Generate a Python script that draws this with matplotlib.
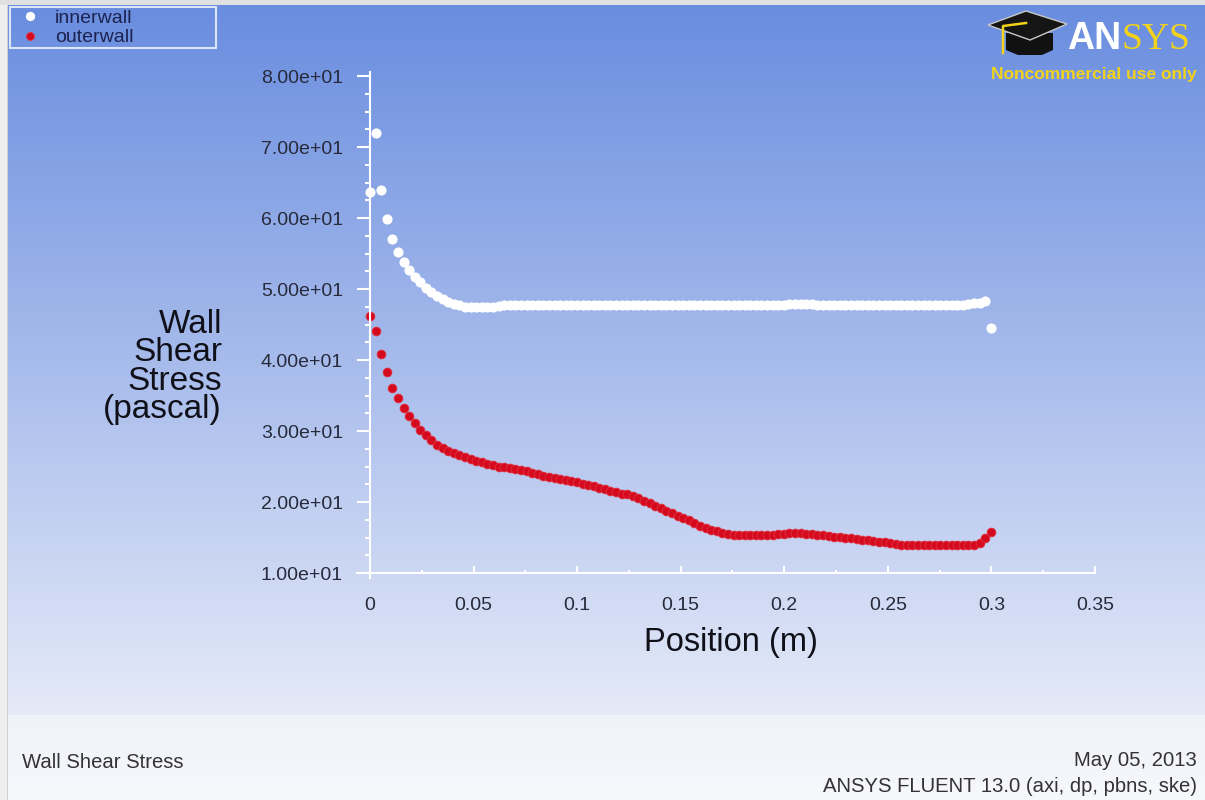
import matplotlib

matplotlib.use("Agg")  # headless
import matplotlib.pyplot as plt  # noqa: E402
import numpy as np  # noqa: E402
from matplotlib.patches import Polygon  # noqa: E402

plt.rcParams["font.family"] = ["Liberation Sans", "DejaVu Sans"]

# Wall shear stress (pascal) along the wall.
position = [
    0.0000, 0.0027, 0.0054, 0.0081, 0.0108, 0.0135, 0.0162, 0.0189, 0.0216, 0.0243,
    0.0270, 0.0297, 0.0324, 0.0351, 0.0378, 0.0405, 0.0432, 0.0459, 0.0486, 0.0513,
    0.0540, 0.0567, 0.0594, 0.0621, 0.0648, 0.0675, 0.0702, 0.0729, 0.0756, 0.0783,
    0.0810, 0.0837, 0.0864, 0.0891, 0.0918, 0.0945, 0.0972, 0.0999, 0.1026, 0.1053,
    0.1080, 0.1107, 0.1134, 0.1161, 0.1188, 0.1215, 0.1242, 0.1269, 0.1296, 0.1323,
    0.1350, 0.1377, 0.1404, 0.1431, 0.1458, 0.1485, 0.1512, 0.1539, 0.1566, 0.1593,
    0.1620, 0.1647, 0.1674, 0.1701, 0.1728, 0.1755, 0.1782, 0.1809, 0.1836, 0.1863,
    0.1890, 0.1917, 0.1944, 0.1971, 0.1998, 0.2025, 0.2052, 0.2079, 0.2106, 0.2133,
    0.2160, 0.2187, 0.2214, 0.2241, 0.2268, 0.2295, 0.2322, 0.2349, 0.2376, 0.2403,
    0.2430, 0.2457, 0.2484, 0.2511, 0.2538, 0.2565, 0.2592, 0.2619, 0.2646, 0.2673,
    0.2700, 0.2727, 0.2754, 0.2781, 0.2808, 0.2835, 0.2862, 0.2889, 0.2916, 0.2943,
    0.2970, 0.2997,
]
inner_wall = [
    63.6, 72.0, 63.9, 59.9, 57.0, 55.2, 53.8, 52.7, 51.7, 51.0,
    50.2, 49.6, 49.0, 48.6, 48.2, 47.9, 47.7, 47.5, 47.4, 47.4,
    47.4, 47.4, 47.5, 47.6, 47.7, 47.7, 47.7, 47.7, 47.7, 47.7,
    47.7, 47.7, 47.7, 47.7, 47.7, 47.7, 47.7, 47.7, 47.7, 47.7,
    47.7, 47.7, 47.7, 47.7, 47.7, 47.7, 47.7, 47.7, 47.7, 47.7,
    47.7, 47.7, 47.7, 47.7, 47.7, 47.7, 47.7, 47.7, 47.7, 47.7,
    47.7, 47.7, 47.7, 47.7, 47.7, 47.7, 47.7, 47.7, 47.7, 47.7,
    47.7, 47.7, 47.7, 47.7, 47.8, 47.9, 47.9, 47.9, 47.9, 47.9,
    47.8, 47.8, 47.7, 47.7, 47.7, 47.7, 47.7, 47.7, 47.7, 47.7,
    47.7, 47.7, 47.7, 47.7, 47.7, 47.7, 47.7, 47.7, 47.7, 47.7,
    47.7, 47.7, 47.7, 47.7, 47.7, 47.8, 47.8, 47.9, 48.0, 48.1,
    48.3, 44.5,
]
outer_wall = [
    46.2, 44.1, 40.8, 38.3, 36.1, 34.6, 33.3, 32.1, 31.1, 30.1,
    29.4, 28.7, 28.1, 27.6, 27.2, 26.9, 26.6, 26.3, 26.1, 25.8,
    25.6, 25.4, 25.2, 25.0, 24.9, 24.8, 24.6, 24.5, 24.3, 24.1,
    23.9, 23.7, 23.5, 23.4, 23.3, 23.1, 22.9, 22.8, 22.6, 22.4,
    22.2, 22.0, 21.8, 21.6, 21.4, 21.2, 21.1, 20.8, 20.5, 20.2,
    19.8, 19.5, 19.1, 18.7, 18.4, 18.1, 17.8, 17.4, 17.0, 16.6,
    16.3, 16.1, 15.9, 15.7, 15.5, 15.4, 15.3, 15.3, 15.3, 15.3,
    15.3, 15.4, 15.4, 15.5, 15.5, 15.6, 15.6, 15.6, 15.5, 15.5,
    15.4, 15.3, 15.2, 15.1, 15.1, 15.0, 14.9, 14.8, 14.7, 14.6,
    14.5, 14.4, 14.3, 14.2, 14.1, 14.0, 14.0, 13.9, 13.9, 13.9,
    13.9, 13.9, 13.9, 13.9, 13.9, 13.9, 13.9, 14.0, 14.0, 14.2,
    15.0, 15.8,
]
series_labels = ["innerwall", "outerwall"]

x_ticks = [0, 0.05, 0.1, 0.15, 0.2, 0.25, 0.3, 0.35]
x_minor = [0.025, 0.075, 0.125, 0.175, 0.225, 0.275, 0.325]
y_ticks = [10, 20, 30, 40, 50, 60, 70, 80]
y_minor = [12.5, 15, 17.5, 22.5, 25, 27.5, 32.5, 35, 37.5, 42.5, 45, 47.5,
           52.5, 55, 57.5, 62.5, 65, 67.5, 72.5, 75, 77.5]

W, H = 1205, 800
fig = plt.figure(figsize=(W / 100, H / 100), dpi=100)

# window background: blue-to-white gradient, light footer strip, thin border
bg = fig.add_axes([0, 0, 1, 1], zorder=-10)
bg.set_xlim(0, W)
bg.set_ylim(H, 0)
bg.axis("off")
img = np.ones((H, W, 3))
top = np.array([104, 140, 223]) / 255
bot = np.array([229, 234, 248]) / 255
t = np.linspace(0, 1, 715)[:, None]
img[:715] = (top + (bot - top) * t)[:, None, :]
foot_a = np.array([240, 242, 250]) / 255
foot_b = np.array([247, 248, 252]) / 255
t = np.linspace(0, 1, H - 715)[:, None]
img[715:] = (foot_a + (foot_b - foot_a) * t)[:, None, :]
img[:, :7] = 0.94
img[:, 7] = 0.82
img[:5] = 0.88
bg.imshow(img, extent=(0, W, H, 0), aspect="auto", interpolation="bilinear")

# ANSYS logo (top right)
bg.add_patch(Polygon([(1006, 33), (1006, 50), (1018, 55), (1042, 55), (1053, 50), (1053, 33)],
                     closed=True, fc="#111111", ec="none"))
bg.add_patch(Polygon([(988, 25), (1026, 11), (1067, 24), (1030, 40)],
                     closed=True, fc="#151515", ec="#c8c8c8", lw=1))
bg.plot([1026, 1003, 1003], [23, 26, 53], color="#f2d21b", lw=1.8)
bg.text(1067, 49, "AN", color="white", fontsize=27, fontweight="bold",
        family=["Liberation Sans", "DejaVu Sans"], ha="left", va="baseline")
bg.text(1121, 49, "SYS", color="#f2d21b", fontsize=27,
        family=["Liberation Serif", "DejaVu Serif"], ha="left", va="baseline")
bg.text(1094, 75, "Noncommercial use only", color="#f2d21b", fontsize=12.5,
        fontweight="bold", ha="center", va="center")

# plot axes: x from -0.0065 (px 356.5) to 0.35 (px 1095), y 9.3..80.5
ax = fig.add_axes([356.5 / W, (H - 578) / H, 738.5 / W, 505.55 / H])
ax.patch.set_alpha(0)
ax.plot(position, inner_wall, "o", ms=6.3, color="white", mec="white",
        label=series_labels[0], clip_on=False)
ax.plot(position, outer_wall, "o", ms=6.3, color="#d50a1e", mec="#e0303f",
        mew=0.6, label=series_labels[1], clip_on=False)
ax.set_xlim(-0.0065, 0.35)
ax.set_ylim(9.3, 80.5)

ax.spines[["top", "right"]].set_visible(False)
ax.spines["left"].set_position(("data", 0))
ax.spines["bottom"].set_position(("data", 10))
for s in ("left", "bottom"):
    ax.spines[s].set_color("white")
    ax.spines[s].set_linewidth(1.5)

ax.set_xticks(x_ticks)
ax.set_xticks(x_minor, minor=True)
ax.set_xticklabels([f"{v:g}" for v in x_ticks])
ax.set_yticks(y_ticks)
ax.set_yticks(y_minor, minor=True)
ax.set_yticklabels([f"{v:.2e}" for v in y_ticks])
ax.tick_params(axis="y", which="major", direction="out", length=9.5, width=1.5,
               color="white", labelsize=14, labelcolor="#262a3a", pad=10)
ax.tick_params(axis="y", which="minor", direction="out", length=3.5, width=1.5,
               color="white")
ax.tick_params(axis="x", which="major", direction="in", length=5, width=1.5,
               color="white", labelsize=14, labelcolor="#262a3a", pad=17)
ax.tick_params(axis="x", which="minor", direction="in", length=2.5, width=1.5,
               color="white")

# axis titles
fig.text(731 / W, 1 - 642 / H, "Position (m)", fontsize=23.5, color="#101018",
         ha="center", va="center")
fig.text(222 / W, 1 - 367 / H, "Wall\nShear\nStress\n(pascal)", fontsize=24,
         color="#101018", ha="right", va="center", multialignment="right",
         linespacing=0.89)

# legend box, top left
leg = ax.legend(loc="upper left", bbox_to_anchor=(10 / W, 1 - 45 / H, 206 / W, 38 / H),
                bbox_transform=fig.transFigure, mode="expand", fontsize=14,
                frameon=True, fancybox=False, edgecolor="#dce5f6", facecolor="none",
                framealpha=1, labelspacing=0.12, borderpad=0.1, handlelength=1.9,
                handletextpad=0.3, borderaxespad=0, markerscale=0.9)
leg.get_frame().set_linewidth(1.5)
for txt in leg.get_texts():
    txt.set_color("#1c2350")

# footer
fig.text(22 / W, 1 - 762 / H, "Wall Shear Stress", fontsize=14.6, color="#333333",
         ha="left", va="center")
fig.text(1197 / W, 1 - 761 / H, "May 05, 2013", fontsize=14.6, color="#333333",
         ha="right", va="center")
fig.text(1197 / W, 1 - 787 / H, "ANSYS FLUENT 13.0 (axi, dp, pbns, ske)", fontsize=14.6,
         color="#333333", ha="right", va="center")

fig.savefig("out.png", dpi=100)
